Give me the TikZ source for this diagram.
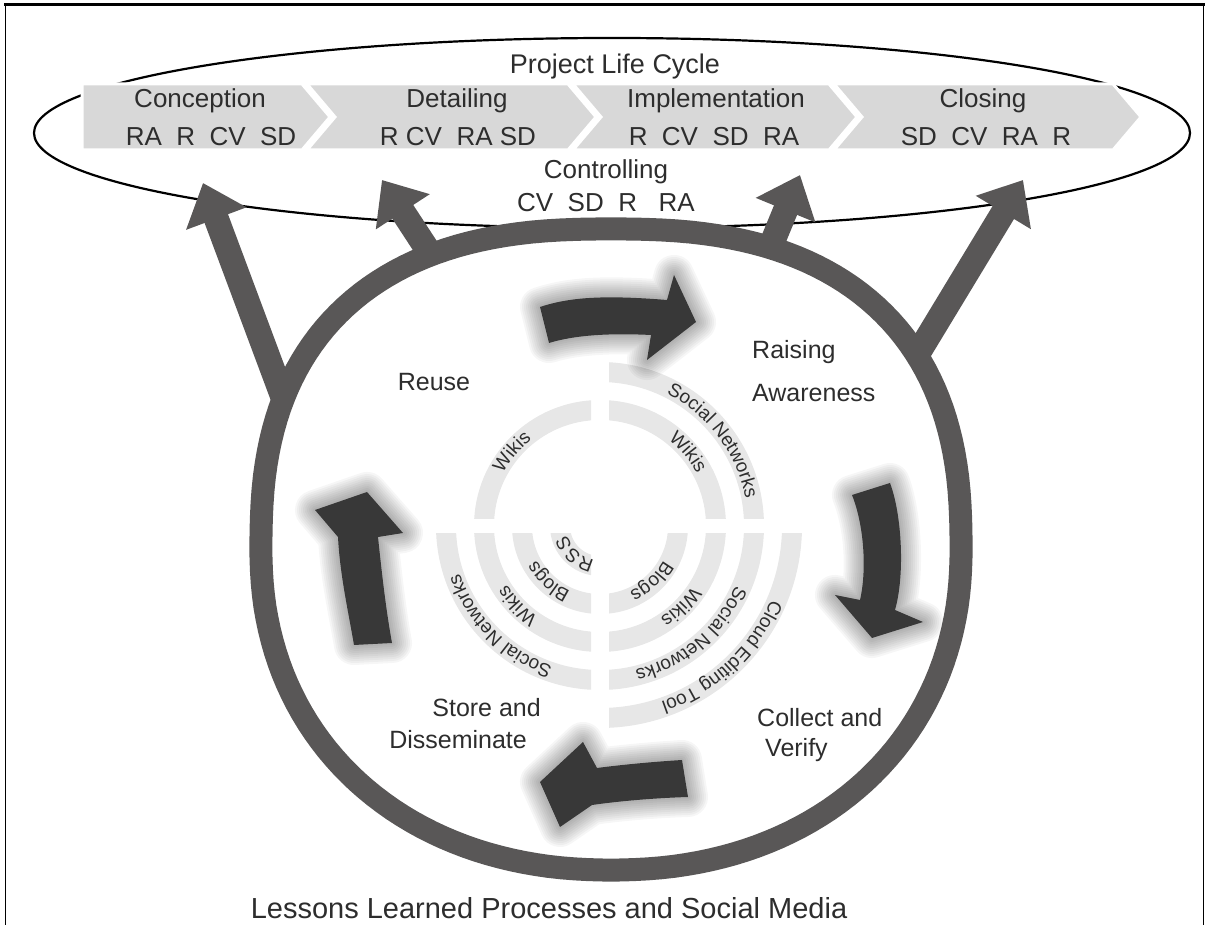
\documentclass[tikz,border=0pt]{standalone}
\usepackage{fontspec}
\setmainfont{Liberation Sans}
\usetikzlibrary{arrows.meta,decorations.text}

\definecolor{ringgray}{RGB}{89,87,87}
\definecolor{chevgray}{RGB}{216,216,216}
\definecolor{bandgray}{RGB}{231,231,231}
\definecolor{txtgray}{RGB}{45,45,45}
\definecolor{flowdark}{RGB}{56,56,56}

\newcommand\fsz[1]{\fontsize{#1}{#1}\selectfont}

% outlines of the four curved flow arrows inside the ring
\def\flowTop{(540,618) .. controls (570,628) and (605,630) .. (667,625) -- (674,650) -- (696,603) -- (647,565) -- (651,590) .. controls (610,592) and (575,590) .. (549,582) -- cycle}
\def\flowRight{(852,430) -- (890,442) .. controls (902,410) and (905,350) .. (895,315) -- (923,303) -- (872,287) -- (835,330) -- (860,325) .. controls (867,355) and (864,400) .. (852,430) -- cycle}
\def\flowBottom{(682,165) .. controls (650,163) and (620,160) .. (597,157) -- (583,183) -- (540,143) -- (560,98) -- (592,120) .. controls (620,124) and (655,127) .. (688,128) -- cycle}
\def\flowLeft{(338,388) -- (315,415) -- (367,433) -- (403,392) -- (378,388) .. controls (382,350) and (386,315) .. (392,282) -- (354,280) .. controls (348,315) and (340,350) .. (338,388) -- cycle}

\begin{document}
\begin{tikzpicture}[x=1pt,y=1pt,
  lbl/.style={text=txtgray, inner sep=0pt, font=\fsz{26}},
  phase/.style={text=txtgray, inner sep=0pt, font=\fsz{25}},
  stagebox/.style={fill=chevgray, draw=white, line width=3pt, line join=miter},
  bigarrow/.style={draw=ringgray, line width=25pt, -{Triangle[width=62pt,length=38pt]}},
  glow/.style={black, opacity=0.035, line width=#1, line join=round},
  bandlabel/.style={decorate, decoration={text along path, text align=center,
      text color=txtgray, text={|\fsz{19}|#1}}}
]
\useasboundingbox (0,0) rectangle (1209,925);

% frame
\draw[line width=2.5pt] (4,920.5) -- (1205,920.5);
\draw[line width=1.5pt] (5.5,921) -- (5.5,0);
\draw[line width=1.5pt] (1203.5,921) -- (1203.5,0);

% project life cycle ellipse
\draw[line width=2.2pt] (612,792) ellipse[x radius=578, y radius=95];

% phase chevrons
\draw[stagebox] (82,841) -- (302,841) -- (330,808) -- (302,775) -- (82,775) -- cycle;
\draw[stagebox] (307,841) -- (568,841) -- (596,808) -- (568,775) -- (307,775) -- (335,808) -- cycle;
\draw[stagebox] (573,841) -- (829,841) -- (857,808) -- (829,775) -- (573,775) -- (601,808) -- cycle;
\draw[stagebox] (834,841) -- (1113,841) -- (1141,808) -- (1113,775) -- (834,775) -- (862,808) -- cycle;

\node[lbl, font=\fsz{27}] (plc) at (615,858) {Project Life Cycle};
\node[lbl] (conc)  at (200,824) {Conception};
\node[lbl] (concx) at (211,788) {RA\ \ R\ \ CV\ \ SD};
\node[lbl] (det)   at (457,824) {Detailing};
\node[lbl] (detx)  at (458,788) {R CV\ \ RA SD};
\node[lbl] (imp)   at (716,824) {Implementation};
\node[lbl] (impx)  at (714,788) {R\ \ CV\ \ SD\ \ RA};
\node[lbl] (clo)   at (983,824) {Closing};
\node[lbl] (clox)  at (986,788) {SD\ \ CV\ \ RA\ \ R};
\node[lbl] (ctl)   at (606,753) {Controlling};
\node[lbl] (ctlx)  at (606,722) {CV\ \ SD\ \ R\ \ \ RA};

% arrows from the lessons-learned ring to the phases
\coordinate (a1s) at (284,525); \coordinate (a1t) at (203,742);
\coordinate (a2s) at (431,670); \coordinate (a2t) at (382,745);
\coordinate (a3s) at (770,677); \coordinate (a3t) at (800,750);
\coordinate (a4s) at (917,570); \coordinate (a4t) at (1023,745);
\draw[bigarrow] (a1s) -- (a1t);
\draw[bigarrow] (a2s) -- (a2t);
\draw[bigarrow] (a3s) -- (a3t);
\draw[bigarrow] (a4s) -- (a4t);

% lessons-learned ring: a superellipse, fuller in its upper half
\draw[ringgray, line width=23pt, line join=round]
  plot[variable=\t, domain=1:359, samples=180]
  ({611+350*sign(cos(\t))*abs(cos(\t))^(ifthenelse(sin(\t)>0,0.8,0.93))},
   {375.5+320.5*sign(sin(\t))*abs(sin(\t))^(ifthenelse(sin(\t)>0,0.8,0.93))}) -- cycle;

% social media bands, one quadrant at a time
\coordinate (ctr) at (600,399);
\begin{scope}
  \clip (609,406.5) rectangle (840,640);
  \foreach \r in {116,154} \draw[bandgray, line width=20pt] (ctr) circle[radius=\r];
\end{scope}
\begin{scope}
  \clip (591,406.5) rectangle (360,640);
  \foreach \r in {116} \draw[bandgray, line width=20pt] (ctr) circle[radius=\r];
\end{scope}
\begin{scope}
  \clip (591,391.5) rectangle (360,160);
  \foreach \r in {40,78,116,154} \draw[bandgray, line width=20pt] (ctr) circle[radius=\r];
\end{scope}
\begin{scope}
  \clip (609,391.5) rectangle (840,160);
  \foreach \r in {78,116,154,192} \draw[bandgray, line width=20pt] (ctr) circle[radius=\r];
\end{scope}

% band labels, read clockwise
\path[bandlabel={Wikis}] ([shift={(185:110)}]ctr) arc[start angle=185, end angle=95, radius=110];
\path[bandlabel={Wikis}] ([shift={(85:110)}]ctr) arc[start angle=85, end angle=-5, radius=110];
\path[bandlabel={Social Networks}] ([shift={(82:148)}]ctr) arc[start angle=82, end angle=-8, radius=148];
\path[bandlabel={RSS}] ([shift={(273:34)}]ctr) arc[start angle=273, end angle=183, radius=34];
\path[bandlabel={Blogs}] ([shift={(272:72)}]ctr) arc[start angle=272, end angle=182, radius=72];
\path[bandlabel={Wikis}] ([shift={(269:110)}]ctr) arc[start angle=269, end angle=179, radius=110];
\path[bandlabel={Social Networks}] ([shift={(270:148)}]ctr) arc[start angle=270, end angle=180, radius=148];
\path[bandlabel={Blogs}] ([shift={(358:72)}]ctr) arc[start angle=358, end angle=268, radius=72];
\path[bandlabel={Wikis}] ([shift={(360:110)}]ctr) arc[start angle=360, end angle=270, radius=110];
\path[bandlabel={Social Networks}] ([shift={(355:148)}]ctr) arc[start angle=355, end angle=265, radius=148];
\path[bandlabel={Cloud Editing Tool}] ([shift={(358:186)}]ctr) arc[start angle=358, end angle=268, radius=186];

% curved flow arrows with a soft halo
\foreach \p in {\flowTop,\flowRight,\flowBottom,\flowLeft}{
  \foreach \w in {40,36,32,28,24,20,16,12,8,4}{ \draw[glow=\w pt] \p; }
  \fill[flowdark] \p;
}

% process step labels
\node[phase] (reuse) at (434,543) {Reuse};
\node[phase, anchor=west] (rais1) at (752,573) {Raising};
\node[phase, anchor=west] (rais2) at (752,532) {Awareness};
\node[phase, anchor=west] (coll1) at (757,207) {Collect and};
\node[phase, anchor=west] (coll2) at (765,175) {Verify};
\node[phase, anchor=east] (store1) at (541,217) {Store and};
\node[phase, anchor=east] (store2) at (527,185) {Disseminate};

\node[lbl, font=\fsz{29}] (title) at (549,17) {Lessons Learned Processes and Social Media};
\end{tikzpicture}
\end{document}
